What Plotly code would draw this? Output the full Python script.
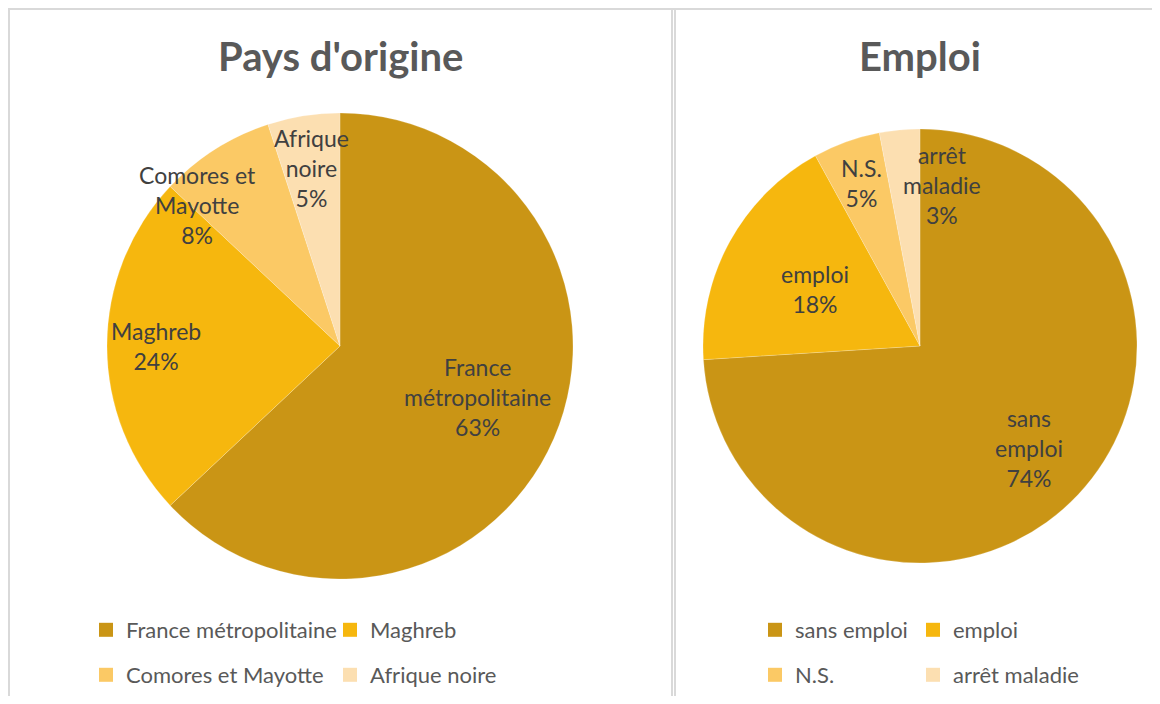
import numpy as np
import plotly.graph_objects as go

# the html page has an 8px body margin: work in page pixels and shift
OFF = 8
W, H = 1160 - 2 * OFF, 704 - 2 * OFF

# data ---------------------------------------------------------------
origine_labels = ["France métropolitaine", "Maghreb", "Comores et Mayotte", "Afrique noire"]
origine_text = ["France<br>métropolitaine", "Maghreb", "Comores et<br>Mayotte", "Afrique<br>noire"]
origine_values = [63, 24, 8, 5]

emploi_labels = ["sans emploi", "emploi", "N.S.", "arrêt maladie"]
emploi_text = ["sans<br>emploi", "emploi", "N.S.", "arrêt<br>maladie"]
emploi_values = [74, 18, 5, 3]

colors = ["#CA9515", "#F6B70E", "#FBC965", "#FCDFB1"]

# label placement (fraction of radius, angular nudge in degrees)
origine_frac = [0.63, 0.79, 0.86, 0.775]
origine_nudge = [-3, 0, -12.8, 0]
emploi_frac = [0.69, 0.55, 0.80, 0.75]
emploi_nudge = [0, 0, 0, 13]

TXT = "#404040"
GREY = "#595959"
FONT = "Lato"


def fx(x):
    return (x - OFF) / W


def fy(y):
    return 1 - (y - OFF) / H


# pies: centre (page px) and radius (px)
pies = [
    dict(name="Pays d'origine", labels=origine_labels, text=origine_text, values=origine_values,
         frac=origine_frac, nudge=origine_nudge, cx=340, cy=346, r=233),
    dict(name="Emploi", labels=emploi_labels, text=emploi_text, values=emploi_values,
         frac=emploi_frac, nudge=emploi_nudge, cx=920, cy=346, r=217),
]

fig = go.Figure()
annotations = []

for p in pies:
    cx, cy, r = p["cx"], p["cy"], p["r"]
    fig.add_trace(go.Pie(
        labels=p["labels"], values=p["values"], sort=False, direction="clockwise", rotation=0,
        marker=dict(colors=colors, line=dict(color="rgba(255,255,255,0.4)", width=0.5)),
        textinfo="none", hoverinfo="label+percent", showlegend=False,
        domain=dict(x=[fx(cx - r), fx(cx + r)], y=[fy(cy + r), fy(cy - r)]),
    ))
    vals = np.array(p["values"], dtype=float)
    cum = np.cumsum(vals) - vals / 2
    tot = vals.sum()
    for i, lab in enumerate(p["text"]):
        ang = np.deg2rad(cum[i] / tot * 360 + p["nudge"][i])
        d = p["frac"][i] * r
        px = cx + d * np.sin(ang)
        py = cy - d * np.cos(ang)
        annotations.append(dict(
            x=fx(px), y=fy(py), xref="paper", yref="paper", showarrow=False,
            text=f"{lab}<br>{round(vals[i] / tot * 100)}%", align="center",
            font=dict(family=FONT, size=23, color=TXT), xanchor="center", yanchor="middle",
        ))

# titles
for p in pies:
    annotations.append(dict(x=fx(p["cx"]), y=fy(56), xref="paper", yref="paper", showarrow=False,
                            text=f"<b>{p['name']}</b>", font=dict(family=FONT, size=40, color=GREY),
                            xanchor="center", yanchor="middle"))

# legends: dummy square markers, two per row
legend_rows = [
    ("legend", origine_labels[0:2], colors[0:2], 199),
    ("legend2", origine_labels[2:4], colors[2:4], 199),
    ("legend3", emploi_labels[0:2], colors[0:2], 113),
    ("legend4", emploi_labels[2:4], colors[2:4], 113),
]
for lg, labs, cols, ew in legend_rows:
    for k, (lab, col) in enumerate(zip(labs, cols)):
        fig.add_trace(go.Scatter(
            x=[None], y=[None], mode="markers", name=lab, legend=lg,
            legendwidth=ew if k == 0 else 145,
            marker=dict(symbol="square", size=14, color=col),
        ))


def leg(xpx, ypx):
    return dict(orientation="h", x=fx(xpx), y=fy(ypx), xanchor="left", yanchor="middle",
                entrywidthmode="pixels", bgcolor="rgba(0,0,0,0)",
                font=dict(family=FONT, size=22, color=GREY), itemclick=False, itemdoubleclick=False)


fig.update_layout(
    width=W, height=H,
    margin=dict(l=0, r=0, t=0, b=0, autoexpand=False),
    paper_bgcolor="white", plot_bgcolor="white",
    xaxis=dict(visible=False, domain=[0, 0.001]),
    yaxis=dict(visible=False, domain=[0, 0.001]),
    annotations=annotations,
    legend=leg(86, 630),
    legend2=leg(86, 675),
    legend3=leg(755, 630),
    legend4=leg(755, 675),
    shapes=[
        dict(type="line", xref="paper", yref="paper", x0=fx(9), x1=fx(9), y0=-0.05, y1=fy(8),
             line=dict(color="#D9D9D9", width=2), layer="below"),
        dict(type="line", xref="paper", yref="paper", x0=fx(9), x1=1.05, y0=fy(9), y1=fy(9),
             line=dict(color="#D9D9D9", width=2), layer="below"),
        dict(type="line", xref="paper", yref="paper", x0=fx(672), x1=fx(672), y0=-0.05, y1=fy(8),
             line=dict(color="#D9D9D9", width=2), layer="below"),
        dict(type="line", xref="paper", yref="paper", x0=fx(675), x1=fx(675), y0=-0.05, y1=fy(8),
             line=dict(color="#D9D9D9", width=2), layer="below"),
    ],
)

fig.write_html("out.html")
